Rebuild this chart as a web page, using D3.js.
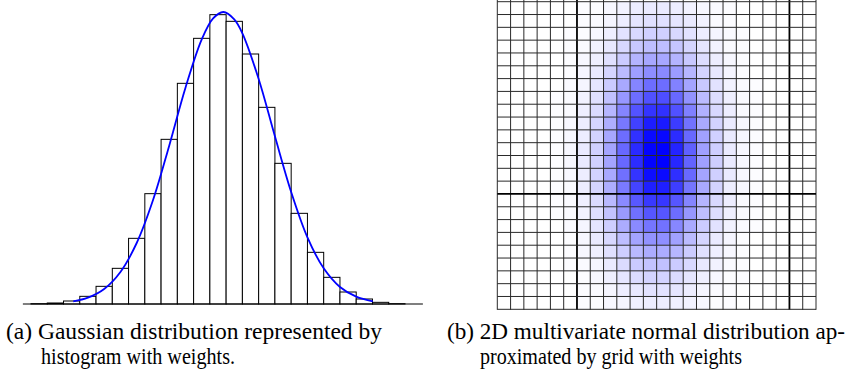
<!DOCTYPE html>
<html>
<head>
<meta charset="utf-8">
<script src="https://cdn.jsdelivr.net/npm/d3@7"></script>
<style>
  html, body { margin: 0; padding: 0; background: #fff; }
  svg { display: block; }
</style>
</head>
<body>
<svg id="fig" width="849" height="386"></svg>
<script>
// histogram of the 1D gaussian: weight of each bin (bins 0..22)
var binWeights = [1, 3, 9, 23, 53, 107, 197, 331, 494, 662, 797, 868, 848, 750, 590, 422, 272, 155, 80, 36, 15, 5, 1];

// blue density curve (x in bin units)
var curveX = [2.6, 3.5, 4.5, 5.5, 6.5, 7.5, 8.5, 9.5, 10.5, 11.2, 11.83, 12.5, 13, 14, 15, 16, 17, 18, 19, 20, 21.02];
var curveY = [8, 19, 45, 96, 183, 311, 475, 649, 794, 857, 876, 854, 812, 675, 503, 336, 200, 107, 51, 22, 8];

// 2D grid weights (24 rows x 24 cols), percent of peak
var gridWeights = [
  [0,0,0,0,0,0,1,1,3,5,7,8,8,7,5,3,2,1,0,0,0,0,0,0],
  [0,0,0,0,0,0,1,2,4,7,10,12,12,10,8,5,2,1,0,0,0,0,0,0],
  [0,0,0,0,0,1,1,3,6,11,15,18,18,15,11,7,4,2,1,0,0,0,0,0],
  [0,0,0,0,0,1,2,5,9,15,21,25,25,22,16,10,5,2,1,0,0,0,0,0],
  [0,0,0,0,0,1,3,6,12,20,29,34,34,29,21,13,7,3,1,0,0,0,0,0],
  [0,0,0,0,0,1,4,8,16,26,37,44,45,38,28,17,9,4,1,0,0,0,0,0],
  [0,0,0,0,0,2,4,10,20,33,47,56,56,48,35,21,11,5,2,1,0,0,0,0],
  [0,0,0,0,1,2,5,12,24,40,56,67,68,58,42,26,13,6,2,1,0,0,0,0],
  [0,0,0,0,1,2,6,14,28,47,66,78,79,67,49,30,15,7,2,1,0,0,0,0],
  [0,0,0,0,1,3,7,16,31,52,73,87,88,75,54,33,17,8,3,1,0,0,0,0],
  [0,0,0,0,1,3,7,17,34,56,79,94,95,81,58,36,18,8,3,1,0,0,0,0],
  [0,0,0,0,1,3,8,18,35,58,82,97,98,84,61,37,19,8,3,1,0,0,0,0],
  [0,0,0,0,1,3,8,18,35,58,81,97,98,83,60,37,19,8,3,1,0,0,0,0],
  [0,0,0,0,1,3,7,17,33,55,78,93,94,80,58,35,18,8,3,1,0,0,0,0],
  [0,0,0,0,1,2,7,16,31,51,72,86,86,74,53,33,17,7,3,1,0,0,0,0],
  [0,0,0,0,1,2,6,14,27,45,64,76,77,65,47,29,15,7,2,1,0,0,0,0],
  [0,0,0,0,1,2,5,12,23,39,55,65,65,56,40,25,13,6,2,1,0,0,0,0],
  [0,0,0,0,0,2,4,10,19,32,45,53,54,46,33,20,11,5,2,1,0,0,0,0],
  [0,0,0,0,0,1,3,8,15,25,35,42,43,36,26,16,8,4,1,0,0,0,0,0],
  [0,0,0,0,0,1,3,6,12,19,27,32,32,28,20,12,6,3,1,0,0,0,0,0],
  [0,0,0,0,0,1,2,4,8,14,20,23,24,20,15,9,5,2,1,0,0,0,0,0],
  [0,0,0,0,0,0,1,3,6,10,14,17,17,14,10,6,3,1,1,0,0,0,0,0],
  [0,0,0,0,0,0,1,2,4,7,9,11,11,10,7,4,2,1,0,0,0,0,0,0],
  [0,0,0,0,0,0,1,1,3,4,6,7,7,6,5,3,1,1,0,0,0,0,0,0]
];
// grid lines drawn heavier (axes of the grid)
var axisCols = [6, 22];
var axisRows = [15];

var captionA = ["(a) Gaussian distribution represented by", "histogram with weights."];
var captionB = ["(b) 2D multivariate normal distribution ap-", "proximated by grid with weights"];

var svg = d3.select("#fig");

/* ---------- (a) histogram ---------- */
var hx = d3.scaleLinear().domain([0, binWeights.length]).range([31, 405]);
var hy = d3.scaleLinear().domain([0, 900]).range([304, 4]);

var gA = svg.append("g");

gA.selectAll("rect.bin")
  .data(binWeights)
  .enter()
  .append("rect")
  .attr("class", "bin")
  .attr("x", function(d, i) { return hx(i); })
  .attr("y", function(d) { return hy(d); })
  .attr("width", hx(1) - hx(0))
  .attr("height", function(d) { return hy(0) - hy(d); })
  .attr("fill", "#fff")
  .attr("stroke", "#000")
  .attr("stroke-width", 1);

// baseline
gA.append("line")
  .attr("x1", hx(-0.5)).attr("x2", hx(24.1))
  .attr("y1", hy(0)).attr("y2", hy(0))
  .attr("stroke", "#000")
  .attr("stroke-width", 1.2);

var curvePts = curveX.map(function(x, i) { return [x, curveY[i]]; });
var line = d3.line()
  .x(function(d) { return hx(d[0]); })
  .y(function(d) { return hy(d[1]); })
  .curve(d3.curveCatmullRom);

gA.append("path")
  .datum(curvePts)
  .attr("d", line)
  .attr("fill", "none")
  .attr("stroke", "#0000ff")
  .attr("stroke-width", 1.8);

/* ---------- (b) weighted grid ---------- */
var nRows = gridWeights.length, nCols = gridWeights[0].length;
var gx = d3.scaleLinear().domain([0, nCols]).range([497.3, 816]);
var gy = d3.scaleLinear().domain([0, nRows]).range([1.7, 309.3]);
var color = d3.scaleLinear()
  .domain([0, d3.max(gridWeights, function(r) { return d3.max(r); })])
  .range(["#ffffff", "#0000ff"]);

var gB = svg.append("g");

var cells = [];
gridWeights.forEach(function(row, r) {
  row.forEach(function(v, c) { cells.push({ r: r, c: c, v: v }); });
});

gB.selectAll("rect.cell")
  .data(cells)
  .enter()
  .append("rect")
  .attr("class", "cell")
  .attr("x", function(d) { return gx(d.c); })
  .attr("y", function(d) { return gy(d.r); })
  .attr("width", gx(1) - gx(0) + 0.3)
  .attr("height", gy(1) - gy(0) + 0.3)
  .attr("fill", function(d) { return color(d.v); });

gB.selectAll("line.v")
  .data(d3.range(nCols + 1))
  .enter()
  .append("line")
  .attr("class", "v")
  .attr("x1", function(d) { return gx(d); })
  .attr("x2", function(d) { return gx(d); })
  .attr("y1", 0)
  .attr("y2", gy(nRows) + 0.5)
  .attr("stroke", function(d) { return axisCols.indexOf(d) >= 0 ? "#000" : "#2a2a2a"; })
  .attr("stroke-width", function(d) { return axisCols.indexOf(d) >= 0 ? 1.8 : 1; });

gB.selectAll("line.h")
  .data(d3.range(nRows + 1))
  .enter()
  .append("line")
  .attr("class", "h")
  .attr("x1", gx(0))
  .attr("x2", gx(nCols))
  .attr("y1", function(d) { return gy(d); })
  .attr("y2", function(d) { return gy(d); })
  .attr("stroke", function(d) { return axisRows.indexOf(d) >= 0 ? "#000" : "#2a2a2a"; })
  .attr("stroke-width", function(d) { return axisRows.indexOf(d) >= 0 ? 1.8 : 1; });

/* ---------- captions ---------- */
function caption(lines, x1, x2, widths) {
  var t = svg.append("g")
    .attr("font-family", "'Liberation Serif', 'Times New Roman', Times, serif")
    .attr("font-size", 23)
    .attr("fill", "#000");
  t.append("text").attr("x", x1).attr("y", 339)
    .attr("textLength", widths[0]).attr("lengthAdjust", "spacingAndGlyphs")
    .text(lines[0]);
  t.append("text").attr("x", x2).attr("y", 364)
    .attr("textLength", widths[1]).attr("lengthAdjust", "spacingAndGlyphs")
    .text(lines[1]);
}
caption(captionA, 6, 41, [376, 194]);
caption(captionB, 447, 480, [398, 262]);
</script>
</body>
</html>
